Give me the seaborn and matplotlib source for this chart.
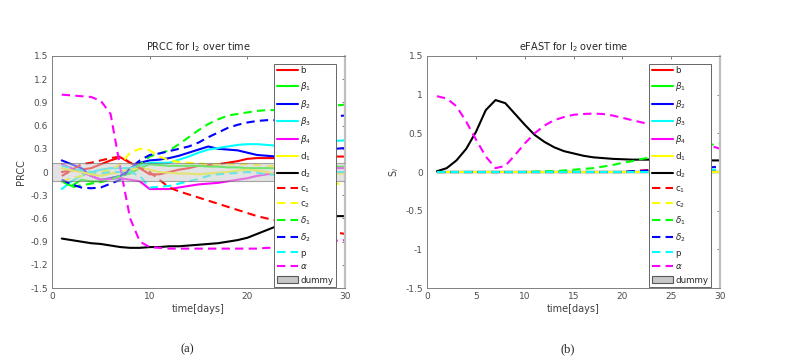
import numpy as np
import pandas as pd
import matplotlib
matplotlib.use('Agg')
import matplotlib.pyplot as plt
from matplotlib.patches import Patch
import seaborn as sns

sns.set_style('white')
plt.rcParams['font.family'] = ['DejaVu Sans']
plt.rcParams['mathtext.fontset'] = 'dejavusans'

# time axis
t = list(range(1, 31))

# legend labels
labels = ['b', r'$\beta_1$', r'$\beta_2$', r'$\beta_3$', r'$\beta_4$', 'd$_1$', 'd$_2$',
          'c$_1$', 'c$_2$', r'$\delta_1$', r'$\delta_2$', 'p', r'$\alpha$']
colors = ['r', 'lime', 'b', 'cyan', 'magenta', 'yellow', 'k',
          'r', 'yellow', 'lime', 'b', 'cyan', 'magenta']
dash = (0, (4, 2.5))
styles = ['-'] * 7 + [dash] * 6

# PRCC values (t = 1..30)
prcc_b = [0.0, 0.02, 0.03, 0.05, 0.10, 0.15, 0.19, 0.12, 0.05, -0.03, -0.03, 0.0, 0.03, 0.05, 0.08,
          0.09, 0.10, 0.12, 0.14, 0.17, 0.18, 0.18, 0.18, 0.17, 0.17, 0.18, 0.19, 0.19, 0.20, 0.20]
prcc_beta1 = [-0.12, -0.18, -0.10, -0.12, -0.12, -0.08, -0.05, -0.02, 0.05, 0.10, 0.09, 0.08, 0.08, 0.08, 0.08,
              0.07, 0.07, 0.06, 0.06, 0.05, 0.05, 0.05, 0.05, 0.05, 0.05, 0.05, 0.06, 0.06, 0.07, 0.07]
prcc_beta2 = [0.15, 0.10, 0.05, -0.05, -0.10, -0.08, -0.05, 0.05, 0.12, 0.15, 0.16, 0.18, 0.21, 0.25, 0.29,
              0.33, 0.30, 0.29, 0.28, 0.25, 0.22, 0.21, 0.20, 0.21, 0.22, 0.24, 0.26, 0.28, 0.30, 0.31]
prcc_beta3 = [-0.22, -0.12, -0.05, 0.0, 0.03, 0.05, 0.05, 0.05, 0.08, 0.12, 0.12, 0.12, 0.16, 0.20, 0.25,
              0.29, 0.31, 0.33, 0.35, 0.36, 0.36, 0.35, 0.34, 0.33, 0.34, 0.36, 0.38, 0.39, 0.40, 0.41]
prcc_beta4 = [0.10, 0.05, 0.0, -0.05, -0.10, -0.09, -0.08, -0.10, -0.12, -0.22, -0.22, -0.22, -0.20, -0.18, -0.16,
              -0.15, -0.14, -0.12, -0.10, -0.08, -0.05, -0.03, -0.01, 0.0, 0.02, 0.03, 0.04, 0.04, 0.05, 0.05]
prcc_d1 = [0.05, 0.02, 0.0, -0.03, -0.05, -0.02, 0.0, 0.03, 0.05, 0.03, 0.0, -0.01, -0.02, -0.02, -0.03,
           -0.02, -0.01, 0.0, 0.02, 0.03, 0.02, 0.0, -0.03, -0.05, -0.05, -0.04, -0.03, -0.03, -0.02, -0.02]
prcc_d2 = [-0.86, -0.88, -0.90, -0.92, -0.93, -0.95, -0.97, -0.98, -0.98, -0.97, -0.97, -0.96, -0.96, -0.95, -0.94,
           -0.93, -0.92, -0.90, -0.88, -0.85, -0.80, -0.75, -0.70, -0.66, -0.63, -0.61, -0.59, -0.58, -0.57, -0.57]
prcc_c1 = [-0.05, 0.02, 0.10, 0.12, 0.15, 0.18, 0.20, 0.12, 0.05, 0.0, -0.10, -0.20, -0.25, -0.29, -0.33,
           -0.37, -0.41, -0.45, -0.49, -0.53, -0.57, -0.60, -0.63, -0.65, -0.68, -0.70, -0.73, -0.75, -0.78, -0.80]
prcc_c2 = [-0.12, -0.08, -0.05, -0.02, 0.0, 0.03, 0.10, 0.25, 0.30, 0.28, 0.20, 0.15, 0.13, 0.12, 0.11,
           0.10, 0.10, 0.10, 0.10, 0.10, 0.09, 0.08, 0.07, 0.06, 0.05, 0.02, -0.03, -0.08, -0.14, -0.18]
prcc_delta1 = [-0.10, -0.20, -0.17, -0.15, -0.13, -0.10, -0.05, 0.0, 0.10, 0.20, 0.24, 0.28, 0.36, 0.45, 0.54,
               0.62, 0.68, 0.73, 0.75, 0.77, 0.79, 0.80, 0.80, 0.80, 0.81, 0.82, 0.83, 0.84, 0.86, 0.87]
prcc_delta2 = [-0.10, -0.16, -0.20, -0.21, -0.20, -0.15, -0.10, 0.05, 0.15, 0.22, 0.24, 0.27, 0.30, 0.33, 0.38,
               0.45, 0.51, 0.57, 0.61, 0.64, 0.66, 0.67, 0.67, 0.67, 0.68, 0.69, 0.70, 0.71, 0.72, 0.73]
prcc_p = [0.08, 0.05, 0.02, 0.0, -0.02, 0.0, 0.0, 0.0, -0.05, -0.20, -0.19, -0.18, -0.15, -0.12, -0.09,
          -0.05, -0.03, -0.02, -0.01, 0.0, -0.01, -0.03, -0.04, -0.05, -0.04, -0.03, -0.02, -0.01, 0.0, 0.0]
prcc_alpha = [1.00, 0.99, 0.98, 0.97, 0.92, 0.75, 0.05, -0.60, -0.90, -0.97, -0.98, -0.99, -0.99, -0.99, -0.99,
              -0.99, -0.99, -0.99, -0.99, -0.99, -0.99, -0.98, -0.98, -0.97, -0.96, -0.94, -0.92, -0.90, -0.89, -0.88]

# eFAST Si values (t = 1..30)
zero = [0.0] * 30
efast_d2 = [0.01, 0.05, 0.15, 0.30, 0.52, 0.80, 0.93, 0.89, 0.75, 0.61, 0.48, 0.39, 0.32, 0.27, 0.24,
            0.21, 0.19, 0.18, 0.17, 0.165, 0.16, 0.16, 0.16, 0.16, 0.16, 0.16, 0.155, 0.155, 0.15, 0.15]
efast_c1 = [0.0] * 20 + [0.01, 0.02, 0.03, 0.03, 0.03, 0.02, 0.02, 0.02, 0.02, 0.02]
efast_delta1 = [0.0] * 10 + [0.005, 0.01, 0.01, 0.02, 0.03, 0.04, 0.05, 0.07, 0.09, 0.12,
                             0.14, 0.17, 0.19, 0.22, 0.25, 0.27, 0.30, 0.32, 0.35, 0.37]
efast_delta2 = [0.0] * 20 + [0.01, 0.015, 0.02, 0.02, 0.03, 0.03, 0.04, 0.05, 0.06, 0.07]
efast_p = [0.0] * 24 + [0.01, 0.01, 0.02, 0.02, 0.03, 0.03]
efast_alpha = [0.98, 0.95, 0.85, 0.65, 0.42, 0.20, 0.05, 0.08, 0.22, 0.37, 0.50, 0.60, 0.67, 0.71, 0.74,
               0.75, 0.755, 0.75, 0.73, 0.70, 0.67, 0.64, 0.61, 0.57, 0.53, 0.48, 0.43, 0.38, 0.34, 0.30]

prcc = [prcc_b, prcc_beta1, prcc_beta2, prcc_beta3, prcc_beta4, prcc_d1, prcc_d2,
        prcc_c1, prcc_c2, prcc_delta1, prcc_delta2, prcc_p, prcc_alpha]
efast = [zero, zero, zero, zero, zero, zero, efast_d2,
         efast_c1, zero, efast_delta1, efast_delta2, efast_p, efast_alpha]

dummy_lo, dummy_hi = -0.11, 0.12

fig = plt.figure(figsize=(7.94, 3.61), dpi=100)
ax1 = fig.add_axes([0.0655, 0.202, 0.369, 0.643])
ax2 = fig.add_axes([0.538, 0.202, 0.369, 0.643])

for ax, series in [(ax1, prcc), (ax2, efast)]:
    for vals, lab, c, ls in zip(series, labels, colors, styles):
        sns.lineplot(x=t, y=vals, ax=ax, color=c, linestyle=ls, linewidth=1.5, label=lab)

# dummy band drawn semi-transparent on top, so lines inside look faded
ax1.axhspan(dummy_lo, dummy_hi, facecolor='0.8', edgecolor='0.4', linewidth=0.8, alpha=0.55, zorder=5)

handles = [plt.Line2D([], [], color=c, linestyle=ls, linewidth=1.5) for c, ls in zip(colors, styles)]
handles.append(Patch(facecolor='0.78', edgecolor='0.35', linewidth=0.8))
leg_labels = labels + ['dummy']

for ax, title, ylab in [(ax1, 'PRCC for I$_2$ over time', 'PRCC'),
                        (ax2, 'eFAST for I$_2$ over time', 'S$_i$')]:
    ax.set_xlim(0, 30)
    ax.set_ylim(-1.5, 1.5)
    ax.set_title(title, fontsize=7, color='0.15', pad=4)
    ax.set_xlabel('time[days]', fontsize=7, color='0.25', labelpad=2)
    ax.set_ylabel(ylab, fontsize=7, color='0.25', labelpad=3)
    ax.tick_params(direction='in', length=2.5, width=0.6, colors='0.4', labelsize=6.5,
                   labelcolor='0.3', top=True, right=True, pad=3)
    for s in ['left', 'bottom', 'top']:
        ax.spines[s].set_color('0.5')
        ax.spines[s].set_linewidth(0.7)
    ax.spines['right'].set_color('0.75')
    ax.spines['right'].set_linewidth(1.6)
    leg = ax.legend(handles, leg_labels, loc='upper right', bbox_to_anchor=(0.969, 0.966),
                    fontsize=6.3, frameon=True, fancybox=False, framealpha=1, edgecolor='0.4',
                    handlelength=2.4, handletextpad=0.3, labelspacing=0.52, borderpad=0.3,
                    borderaxespad=0)
    leg.get_frame().set_linewidth(0.7)
    leg.set_zorder(10)

ax1.set_xticks([0, 10, 20, 30])
ax1.set_yticks(np.round(np.arange(-1.5, 1.51, 0.3), 1))
ax1.set_yticklabels(['-1.5', '-1.2', '-0.9', '-0.6', '-0.3', '0', '0.3', '0.6', '0.9', '1.2', '1.5'])
ax2.set_xticks([0, 5, 10, 15, 20, 25, 30])
ax2.set_yticks([-1.5, -1, -0.5, 0, 0.5, 1, 1.5])
ax2.set_yticklabels(['-1.5', '-1', '-0.5', '0', '0.5', '1', '1.5'])

fig.text(187 / 794, 1 - 349 / 361, '(a)', fontsize=9, family='Liberation Serif', ha='center', va='center')
fig.text(568 / 794, 1 - 349 / 361, '(b)', fontsize=9, family='Liberation Serif', ha='center', va='center')

fig.savefig('out.png', dpi=100)
